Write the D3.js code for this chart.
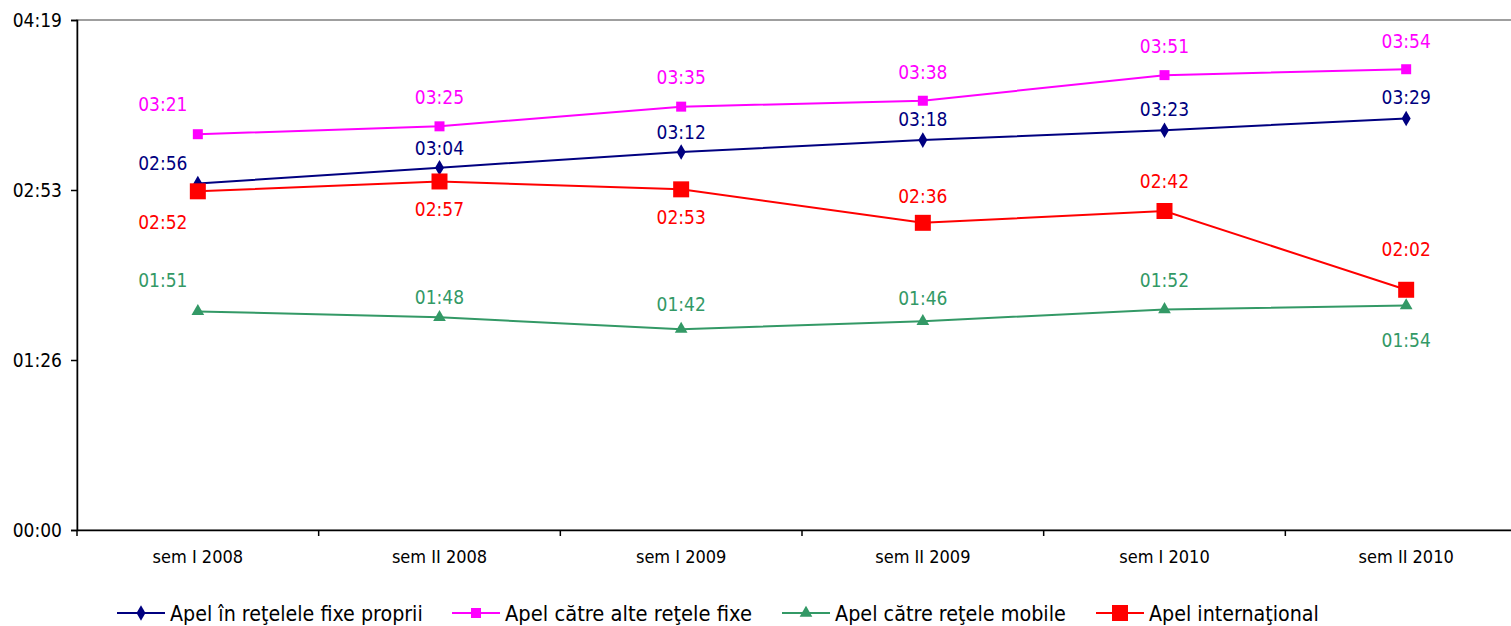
<!DOCTYPE html>
<html>
<head>
<meta charset="utf-8">
<script src="https://cdn.jsdelivr.net/npm/d3@7"></script>
<style>
  body { margin: 0; background: #fff; }
  svg { display: block; font-family: Tahoma, "DejaVu Sans Condensed", "DejaVu Sans", sans-serif; }
</style>
</head>
<body>
<div id="chart"></div>
<script>
// categories and tick labels
var categories = ["sem I 2008", "sem II 2008", "sem I 2009", "sem II 2009", "sem I 2010", "sem II 2010"];
var yTickSeconds = [0, 86.33, 172.67, 259];
var yTickLabels = ["00:00", "01:26", "02:53", "04:19"];

// series values, in seconds (mm:ss)
var fixeProprii = [176, 184, 192, 198, 203, 209];
var alteFixe = [201, 205, 215, 218, 231, 234];
var mobile = [111, 108, 102, 106, 112, 114];
var international = [172, 177, 173, 156, 162, 122];

var seriesNames = ["Apel în reţelele fixe proprii", "Apel către alte reţele fixe", "Apel către reţele mobile", "Apel internaţional"];

function fmt(s) {
    var m = Math.floor(s / 60), r = Math.round(s % 60);
    return (m < 10 ? "0" : "") + m + ":" + (r < 10 ? "0" : "") + r;
}

/*   Styles   */
var series = [
    { name: seriesNames[0], values: fixeProprii, color: "#000080", symbol: d3.symbolDiamond, size: 70, labelDy: [-20, -20, -20, -21, -21, -21] },
    { name: seriesNames[1], values: alteFixe, color: "#FF00FF", symbol: d3.symbolSquare, size: 100, labelDy: [-30, -29, -29, -29, -29, -28] },
    { name: seriesNames[2], values: mobile, color: "#339966", symbol: d3.symbolTriangle, size: 70, labelDy: [-31, -20, -25, -23, -29, 35] },
    { name: seriesNames[3], values: international, color: "#FF0000", symbol: d3.symbolSquare, size: 256, labelDy: [31, 28, 28, -27, -30, -41] }
];
// first column labels sit left of their point
var labelDx = [-35, 0, 0, 0, 0, 0];

var width = 1511, height = 626;
var margin = { top: 20, right: -16, bottom: 96, left: 77 };

var svg = d3.select("#chart")
    .append("svg")
    .attr("width", width)
    .attr("height", height);

var x = d3.scaleBand()
    .domain(categories)
    .range([margin.left, width - margin.right]);

var y = d3.scaleLinear()
    .domain([0, 259])
    .range([height - margin.bottom, margin.top]);

// plot area border
svg.append("rect")
    .attr("x", margin.left)
    .attr("y", margin.top)
    .attr("width", width - margin.right - margin.left)
    .attr("height", height - margin.bottom - margin.top)
    .attr("fill", "none")
    .attr("stroke", "#808080")
    .attr("stroke-width", 1.5);

// Y axis
var yAxis = svg.append("g")
    .attr("transform", "translate(" + margin.left + ",0)")
    .call(d3.axisLeft(y)
        .tickValues(yTickSeconds)
        .tickFormat(function (d, i) { return yTickLabels[i]; })
        .tickSize(6)
        .tickPadding(9))
    .attr("font-family", null);
yAxis.selectAll("text").attr("font-size", 19).attr("fill", "#000");
yAxis.selectAll("line, path").attr("stroke", "#000").attr("stroke-width", 1.5);

// X axis with ticks at category boundaries
var xAxis = svg.append("g")
    .attr("transform", "translate(0," + (height - margin.bottom) + ")")
    .call(d3.axisBottom(x).tickSize(0).tickPadding(20))
    .attr("font-family", null);
xAxis.select("path").attr("stroke", "#000").attr("stroke-width", 1.5);
xAxis.selectAll("text").attr("font-size", 18).attr("fill", "#000");
xAxis.selectAll(".bound")
    .data(categories)
    .enter()
    .append("line")
    .attr("x1", function (d) { return x(d); })
    .attr("x2", function (d) { return x(d); })
    .attr("y1", 0)
    .attr("y2", 6)
    .attr("stroke", "#000")
    .attr("stroke-width", 1.5);

var cx = function (i) { return x(categories[i]) + x.bandwidth() / 2; };

/*   Lines, markers, labels   */
series.forEach(function (s) {
    svg.append("path")
        .datum(s.values)
        .attr("fill", "none")
        .attr("stroke", s.color)
        .attr("stroke-width", 2)
        .attr("d", d3.line()
            .x(function (d, i) { return cx(i); })
            .y(function (d) { return y(d); }));

    svg.append("g")
        .selectAll("path")
        .data(s.values)
        .enter()
        .append("path")
        .attr("transform", function (d, i) { return "translate(" + cx(i) + "," + y(d) + ")"; })
        .attr("d", d3.symbol().type(s.symbol).size(s.size))
        .attr("fill", s.color);

    svg.append("g")
        .selectAll("text")
        .data(s.values)
        .enter()
        .append("text")
        .attr("x", function (d, i) { return cx(i) + labelDx[i]; })
        .attr("y", function (d, i) { return y(d) + s.labelDy[i]; })
        .attr("dy", "0.36em")
        .attr("text-anchor", "middle")
        .attr("font-size", 19)
        .attr("fill", s.color)
        .text(function (d) { return fmt(d); });
});

/*   Legend   */
var legendX = [117, 452, 782, 1096];
var legendW = [253, 247, 231, 170];
var legendY = 613;
var legend = svg.append("g")
    .selectAll("g")
    .data(series)
    .enter()
    .append("g")
    .attr("transform", function (d, i) { return "translate(" + legendX[i] + "," + legendY + ")"; });

legend.append("line")
    .attr("x1", 0).attr("x2", 48)
    .attr("stroke", function (d) { return d.color; })
    .attr("stroke-width", 2);
legend.append("path")
    .attr("transform", "translate(24,0)")
    .attr("d", function (d) { return d3.symbol().type(d.symbol).size(d.size)(); })
    .attr("fill", function (d) { return d.color; });
// narrow legend font: squeeze horizontally to the measured width
legend.append("text")
    .attr("dy", "0.36em")
    .attr("font-size", 21)
    .attr("fill", "#000")
    .text(function (d) { return d.name; })
    .attr("transform", function (d, i) {
        var w = this.getComputedTextLength();
        return "translate(53,0) scale(" + (legendW[i] / w) + ",1)";
    });
</script>
</body>
</html>
